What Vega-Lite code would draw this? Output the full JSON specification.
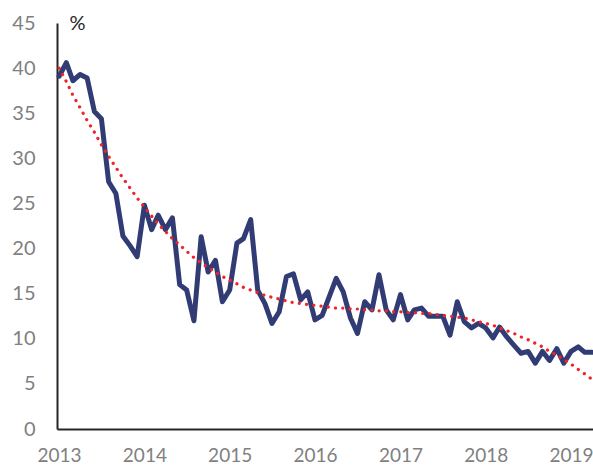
{
  "$schema": "https://vega.github.io/schema/vega-lite/v6.json",
  "width": 536,
  "height": 406,
  "autosize": {"type": "none"},
  "padding": {"left": 57, "top": 23, "right": 0, "bottom": 39},
  "background": "white",
  "config": {"view": {"stroke": null}, "font": "Lato"},
  "data": {"values": [
    {"date": "2013/01/01", "value": 39.1, "trend": 40.0},
    {"date": "2013/02/01", "value": 40.6, "trend": 38.5},
    {"date": "2013/03/01", "value": 38.6, "trend": 37.0},
    {"date": "2013/04/01", "value": 39.3, "trend": 35.6},
    {"date": "2013/05/01", "value": 38.9, "trend": 34.2},
    {"date": "2013/06/01", "value": 35.2, "trend": 32.9},
    {"date": "2013/07/01", "value": 34.4, "trend": 31.5},
    {"date": "2013/08/01", "value": 27.4, "trend": 30.2},
    {"date": "2013/09/01", "value": 26.1, "trend": 29.0},
    {"date": "2013/10/01", "value": 21.4, "trend": 27.8},
    {"date": "2013/11/01", "value": 20.3, "trend": 26.7},
    {"date": "2013/12/01", "value": 19.1, "trend": 25.6},
    {"date": "2014/01/01", "value": 24.8, "trend": 24.6},
    {"date": "2014/02/01", "value": 22.1, "trend": 23.6},
    {"date": "2014/03/01", "value": 23.7, "trend": 22.7},
    {"date": "2014/04/01", "value": 22.1, "trend": 21.9},
    {"date": "2014/05/01", "value": 23.4, "trend": 21.1},
    {"date": "2014/06/01", "value": 16.0, "trend": 20.4},
    {"date": "2014/07/01", "value": 15.4, "trend": 19.7},
    {"date": "2014/08/01", "value": 12.0, "trend": 19.0},
    {"date": "2014/09/01", "value": 21.3, "trend": 18.4},
    {"date": "2014/10/01", "value": 17.4, "trend": 17.9},
    {"date": "2014/11/01", "value": 18.7, "trend": 17.4},
    {"date": "2014/12/01", "value": 14.1, "trend": 16.9},
    {"date": "2015/01/01", "value": 15.4, "trend": 16.5},
    {"date": "2015/02/01", "value": 20.6, "trend": 16.1},
    {"date": "2015/03/01", "value": 21.1, "trend": 15.7},
    {"date": "2015/04/01", "value": 23.2, "trend": 15.4},
    {"date": "2015/05/01", "value": 15.4, "trend": 15.1},
    {"date": "2015/06/01", "value": 13.9, "trend": 14.8},
    {"date": "2015/07/01", "value": 11.7, "trend": 14.6},
    {"date": "2015/08/01", "value": 13.0, "trend": 14.4},
    {"date": "2015/09/01", "value": 16.9, "trend": 14.2},
    {"date": "2015/10/01", "value": 17.2, "trend": 14.0},
    {"date": "2015/11/01", "value": 14.3, "trend": 13.9},
    {"date": "2015/12/01", "value": 15.2, "trend": 13.8},
    {"date": "2016/01/01", "value": 12.1, "trend": 13.7},
    {"date": "2016/02/01", "value": 12.6, "trend": 13.6},
    {"date": "2016/03/01", "value": 14.6, "trend": 13.5},
    {"date": "2016/04/01", "value": 16.7, "trend": 13.4},
    {"date": "2016/05/01", "value": 15.2, "trend": 13.4},
    {"date": "2016/06/01", "value": 12.3, "trend": 13.3},
    {"date": "2016/07/01", "value": 10.6, "trend": 13.3},
    {"date": "2016/08/01", "value": 14.1, "trend": 13.2},
    {"date": "2016/09/01", "value": 13.2, "trend": 13.2},
    {"date": "2016/10/01", "value": 17.1, "trend": 13.1},
    {"date": "2016/11/01", "value": 13.2, "trend": 13.1},
    {"date": "2016/12/01", "value": 12.1, "trend": 13.0},
    {"date": "2017/01/01", "value": 14.9, "trend": 13.0},
    {"date": "2017/02/01", "value": 12.1, "trend": 12.9},
    {"date": "2017/03/01", "value": 13.2, "trend": 12.9},
    {"date": "2017/04/01", "value": 13.4, "trend": 12.8},
    {"date": "2017/05/01", "value": 12.5, "trend": 12.8},
    {"date": "2017/06/01", "value": 12.5, "trend": 12.7},
    {"date": "2017/07/01", "value": 12.5, "trend": 12.6},
    {"date": "2017/08/01", "value": 10.4, "trend": 12.5},
    {"date": "2017/09/01", "value": 14.1, "trend": 12.4},
    {"date": "2017/10/01", "value": 11.9, "trend": 12.3},
    {"date": "2017/11/01", "value": 11.2, "trend": 12.1},
    {"date": "2017/12/01", "value": 11.7, "trend": 11.9},
    {"date": "2018/01/01", "value": 11.2, "trend": 11.7},
    {"date": "2018/02/01", "value": 10.1, "trend": 11.5},
    {"date": "2018/03/01", "value": 11.3, "trend": 11.2},
    {"date": "2018/04/01", "value": 10.2, "trend": 10.9},
    {"date": "2018/05/01", "value": 9.3, "trend": 10.6},
    {"date": "2018/06/01", "value": 8.4, "trend": 10.2},
    {"date": "2018/07/01", "value": 8.6, "trend": 9.9},
    {"date": "2018/08/01", "value": 7.3, "trend": 9.5},
    {"date": "2018/09/01", "value": 8.6, "trend": 9.1},
    {"date": "2018/10/01", "value": 7.6, "trend": 8.6},
    {"date": "2018/11/01", "value": 8.9, "trend": 8.2},
    {"date": "2018/12/01", "value": 7.3, "trend": 7.7},
    {"date": "2019/01/01", "value": 8.6, "trend": 7.2},
    {"date": "2019/02/01", "value": 9.1, "trend": 6.6},
    {"date": "2019/03/01", "value": 8.5, "trend": 6.1},
    {"date": "2019/04/01", "value": 8.5, "trend": 5.5}
  ]},
  "encoding": {
    "x": {
      "field": "date",
      "type": "temporal",
      "scale": {"domain": [{"year": 2012, "month": 12, "date": 23}, {"year": 2019, "month": 4, "date": 5}]},
      "axis": {
        "title": null,
        "format": "%Y",
        "values": [{"year": 2013}, {"year": 2014}, {"year": 2015}, {"year": 2016}, {"year": 2017}, {"year": 2018}, {"year": 2019}],
        "grid": false,
        "ticks": false,
        "domainColor": "#262626",
        "domainWidth": 2,
        "labelColor": "#808080",
        "labelFontSize": 19,
        "labelPadding": 17,
        "labelFlush": false,
        "labelOverlap": false
      }
    }
  },
  "layer": [
    {
      "mark": {"type": "line", "color": "#313C75", "strokeWidth": 5, "strokeJoin": "round", "strokeCap": "round"},
      "encoding": {
        "y": {
          "field": "value",
          "type": "quantitative",
          "scale": {"domain": [0, 45], "nice": false},
          "axis": {
            "title": "%",
            "titleAngle": 0,
            "titleAlign": "left",
            "titleBaseline": "alphabetic",
            "titleX": 12,
            "titleY": 6,
            "titleFontSize": 20,
            "titleFontWeight": "normal",
            "titleColor": "#262626",
            "values": [0, 5, 10, 15, 20, 25, 30, 35, 40, 45],
            "grid": false,
            "ticks": false,
            "domainColor": "#262626",
            "domainWidth": 2,
            "labelColor": "#808080",
            "labelFontSize": 20,
            "labelPadding": 22
          }
        }
      }
    },
    {
      "mark": {"type": "line", "color": "#EE2428", "strokeWidth": 3.2, "strokeCap": "round", "strokeDash": [0.1, 7.2]},
      "encoding": {
        "y": {"field": "trend", "type": "quantitative"}
      }
    }
  ]
}
